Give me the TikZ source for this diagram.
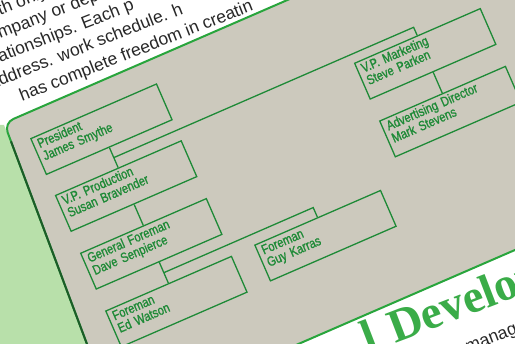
\documentclass[tikz,border=0pt]{standalone}
\usepackage{fontspec}
\setmainfont{Liberation Sans}
\newfontfamily\chartfont[FakeStretch=0.82, FakeBold=1.2]{Liberation Sans}
\newfontfamily\headfont{Liberation Serif}
\usepackage{xcolor}
\usepackage{tikz}
\usetikzlibrary{calc}

\definecolor{panelgray}{RGB}{204,201,189}
\definecolor{chartgreen}{RGB}{30,138,55}
\definecolor{rimgreen}{RGB}{40,165,60}
\definecolor{darkrim}{RGB}{28,92,40}
\definecolor{leafgreen}{RGB}{184,224,170}
\definecolor{headgreen}{RGB}{58,172,72}
\definecolor{ink}{RGB}{40,40,40}

\begin{document}
\begin{tikzpicture}[
    x=1pt, y=1pt,
    box/.style={draw=chartgreen, line width=1.3pt, anchor=north west, minimum width=137pt, minimum height=39pt,
        inner xsep=4.5pt, inner ysep=0pt, text width=128pt, align=left, text=chartgreen,
        font=\chartfont\fontsize{13.5}{13.5}\selectfont,
        execute at begin node=\rule{0pt}{9.9pt}, execute at end node=\rule[-10.8pt]{0pt}{10.8pt}},
    link/.style={draw=chartgreen, line width=1.3pt},
    para/.style={anchor=base west, rotate=21.5, inner sep=0pt, text=ink, font=\fontsize{17.5}{21}\selectfont},
    rim/.style={line width=2pt},
]

% ===== Frame =====
\useasboundingbox (0,0) rectangle (515,344);
\clip (0,0) rectangle (515,344);
\fill[white] (0,0) rectangle (515,344);

% ===== Page text, top left =====
\node[para] (line1) at (-15.4,322.5) {with only};
\node[para] (line2) at (-17.2,298.2) {company or dep};
\node[para] (line3) at (-18,274.4) {relationships. Each p};
\node[para] (line4) at (-8.4,254.7) {address. work schedule. h};
\node[para] (line5) at (22,242.4) {has complete freedom in creatin};

% ===== Green strip on the left =====
\fill[leafgreen] (-10,219) -- (4,219) -- (98.2,-30) -- (-10,-30) -- cycle;

% ===== Photo panel =====
\fill[panelgray, rounded corners=10pt] (98.2,-30) -- (4.1,221) -- (600,479.7) -- (600,130.9) -- (250,-21) -- cycle;
\draw[rim, rimgreen, rounded corners=10pt] (98.2,-30) -- (4.1,221) -- (600,479.7);
\draw[rim, darkrim] (98.2,-30) -- (11,202.6);
\draw[rim, rimgreen] (250,-21) -- (600,130.9);

% ===== Organisation chart =====
\begin{scope}[shift={(30,205.7)}, rotate=23.5, transform shape]
    \node[box] (pres) at (0,0) {President\\James Smythe};
    \node[box] (vpprod) at (0,-62) {V.P. Production\\Susan Bravender};
    \node[box] (genfore) at (0,-125) {General Foreman\\Dave Senpierce};
    \node[box] (foreed) at (0,-188) {Foreman\\Ed Watson};
    \node[box] (foreguy) at (163,-187) {Foreman\\Guy Karras};
    \node[box] (vpmkt) at (327,-60) {V.P. Marketing\\Steve Parken};
    \node[box] (advdir) at (327,-123) {Advertising Director\\Mark Stevens};

    % junctions and elbows
    \coordinate (jpres) at ($(pres.south)!0.5!(vpprod.north)$);
    \coordinate (jpresr) at ($(jpres)!1!-90:(pres.south)$);
    \coordinate (kmkt) at ($(jpres)!(vpmkt.north)!(jpresr)$);
    \coordinate (jgen) at ($(genfore.south)!0.5!(foreed.north)$);
    \coordinate (jgenr) at ($(jgen)!1!-90:(genfore.south)$);
    \coordinate (kguy) at ($(jgen)!(foreguy.north)!(jgenr)$);

    \draw[link] (pres.south) -- (vpprod.north);
    \draw[link] (jpres) -- (kmkt) -- (vpmkt.north);
    \draw[link] (vpprod.south) -- (genfore.north);
    \draw[link] (genfore.south) -- (foreed.north);
    \draw[link] (jgen) -- (kguy) -- (foreguy.north);
    \draw[link] (vpmkt.south) -- (advdir.north);
\end{scope}

% ===== Page below, heading =====
\node[anchor=base west, rotate=21, inner sep=0pt, text=headgreen, font=\headfont\bfseries\fontsize{47}{47}\selectfont] (headline) at (368,-10) {l\hspace{15.9pt}Development};
\node[para, rotate=-0.5] (bodyword) at (468,-8.5) {manage};

\end{tikzpicture}
\end{document}
